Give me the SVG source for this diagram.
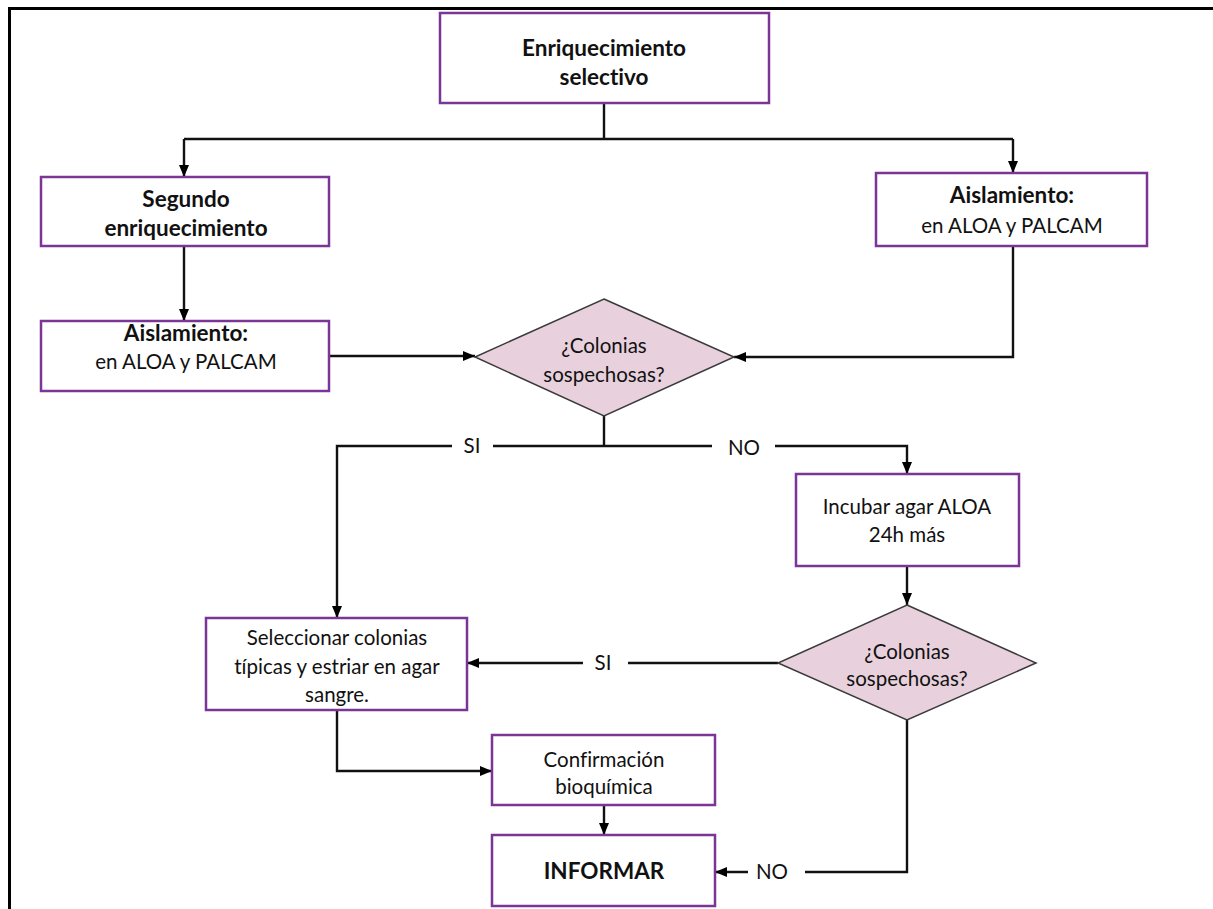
<svg xmlns="http://www.w3.org/2000/svg" width="1213" height="909" viewBox="0 0 1213 909">
  <defs>
    <marker id="arrow" viewBox="0 0 12 10" refX="12" refY="5" markerWidth="12" markerHeight="10" orient="auto-start-reverse" markerUnits="userSpaceOnUse">
      <path d="M0,0 L12,5 L0,10 z" fill="#000"/>
    </marker>
    <style>
      .box { fill: #ffffff; stroke: #7b3596; stroke-width: 2.5; }
      .dia { fill: #e8d1dd; stroke: #3a3a3a; stroke-width: 1.5; }
      .link { fill: none; stroke: #111; stroke-width: 2.4; }
      .t { font-family: Lato, "Liberation Sans", sans-serif; font-size: 20.5px; fill: #111; text-anchor: middle; font-variant-ligatures: none; }
      .b { font-weight: bold; font-size: 22.5px; }
    </style>
  </defs>
  <rect width="1213" height="909" fill="#ffffff"/>
  <!-- page frame -->
  <path d="M9.5,909 L9.5,8.5 L1213,8.5" fill="none" stroke="#000" stroke-width="3"/>

  <g id="connectors">
    <path class="link" d="M604,103 V139"/>
    <path class="link" d="M184,139 H1013"/>
    <path class="link" d="M184,139 V177" marker-end="url(#arrow)"/>
    <path class="link" d="M1013,139 V173" marker-end="url(#arrow)"/>
    <path class="link" d="M184,246 V321" marker-end="url(#arrow)"/>
    <path class="link" d="M329,356 H475" marker-end="url(#arrow)"/>
    <path class="link" d="M1013,246 V357 H734" marker-end="url(#arrow)"/>
    <path class="link" d="M604,416 V446"/>
    <path class="link" d="M604,446 H493"/>
    <path class="link" d="M452,446 H337 V618" marker-end="url(#arrow)"/>
    <path class="link" d="M604,446 H712"/>
    <path class="link" d="M775,446 H907 V474" marker-end="url(#arrow)"/>
    <path class="link" d="M907,566 V605" marker-end="url(#arrow)"/>
    <path class="link" d="M778,663 H628"/>
    <path class="link" d="M583,663 H467" marker-end="url(#arrow)"/>
    <path class="link" d="M337,710 V771 H492" marker-end="url(#arrow)"/>
    <path class="link" d="M604,805 V835" marker-end="url(#arrow)"/>
    <path class="link" d="M907,720 V872 H805"/>
    <path class="link" d="M748,872 H715" marker-end="url(#arrow)"/>
    <text class="t" x="472" y="453">SI</text>
    <text class="t" x="744" y="455">NO</text>
    <text class="t" x="603" y="670">SI</text>
    <text class="t" x="772" y="879">NO</text>
  </g>

  <g id="enriquecimiento-selectivo">
    <rect class="box" x="440" y="13" width="329" height="90"/>
    <text class="t b" x="604" y="56">Enriquecimiento</text>
    <text class="t b" x="604" y="85">selectivo</text>
  </g>

  <g id="segundo-enriquecimiento">
    <rect class="box" x="41" y="177" width="288" height="69"/>
    <text class="t b" x="186" y="207">Segundo</text>
    <text class="t b" x="186" y="236">enriquecimiento</text>
  </g>

  <g id="aislamiento-derecha">
    <rect class="box" x="876" y="173" width="271" height="73"/>
    <text class="t b" x="1012" y="203">Aislamiento:</text>
    <text class="t" x="1012" y="233">en ALOA y PALCAM</text>
  </g>

  <g id="aislamiento-izquierda">
    <rect class="box" x="41" y="321" width="288" height="70"/>
    <text class="t b" x="186" y="341">Aislamiento:</text>
    <text class="t" x="186" y="369">en ALOA y PALCAM</text>
  </g>

  <g id="colonias-sospechosas-1">
    <polygon class="dia" points="604,299 734,357 604,416 475,357"/>
    <text class="t" x="604" y="353">¿Colonias</text>
    <text class="t" x="604" y="382">sospechosas?</text>
  </g>

  <g id="incubar">
    <rect class="box" x="796" y="474" width="223" height="92"/>
    <text class="t" x="907" y="514">Incubar agar ALOA</text>
    <text class="t" x="907" y="542">24h más</text>
  </g>

  <g id="colonias-sospechosas-2">
    <polygon class="dia" points="907,605 1036,663 907,720 778,663"/>
    <text class="t" x="907" y="659">¿Colonias</text>
    <text class="t" x="907" y="686">sospechosas?</text>
  </g>

  <g id="seleccionar">
    <rect class="box" x="206" y="618" width="261" height="92"/>
    <text class="t" x="337" y="645">Seleccionar colonias</text>
    <text class="t" x="337" y="674">típicas y estriar en agar</text>
    <text class="t" x="337" y="702">sangre.</text>
  </g>

  <g id="confirmacion">
    <rect class="box" x="492" y="735" width="223" height="70"/>
    <text class="t" x="604" y="767">Confirmación</text>
    <text class="t" x="604" y="794">bioquímica</text>
  </g>

  <g id="informar">
    <rect class="box" x="492" y="835" width="223" height="71"/>
    <text class="t b" x="604" y="879">INFORMAR</text>
  </g>
</svg>
